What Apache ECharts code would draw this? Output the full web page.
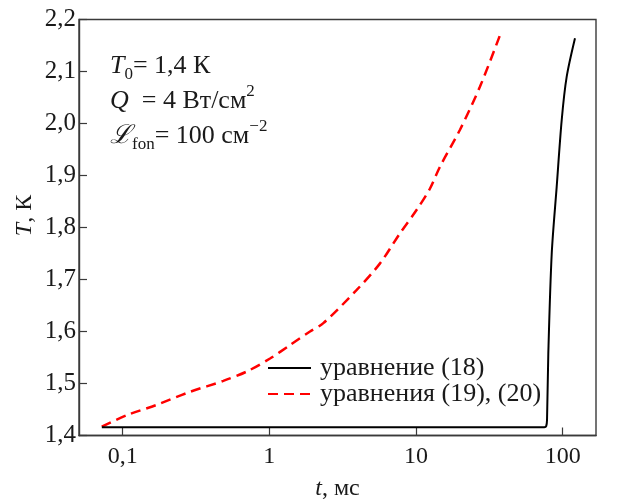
<!DOCTYPE html>
<html>
<head>
<meta charset="utf-8">
<script src="https://cdn.jsdelivr.net/npm/echarts@6/dist/echarts.min.js"></script>
<style>html,body{margin:0;padding:0;background:#fff}#c{width:635px;height:504px}</style>
</head>
<body>
<div id="c"></div>
<script>
// ---- data ----
var seriesNames = ['уравнение (18)', 'уравнения (19), (20)'];
// equation (18): time, ms
var eq18Time = [0.0721, 1, 10, 60, 75, 77.2, 78.2, 79.8, 84.2, 91.0, 98.5, 106.5, 121.3];
var eq18Temp = [1.416, 1.416, 1.416, 1.416, 1.416, 1.418, 1.43, 1.558, 1.750, 1.878, 2.007, 2.090, 2.164];
// equations (19), (20)
var eq1920Time = [0.0721, 0.1067, 0.1708, 0.288, 0.4857, 0.7015, 1.011, 1.384, 1.894, 2.334, 3.943, 5.684, 7.78, 10.11, 12.46, 14.57, 19.95, 27.31, 37.4];
var eq1920Temp = [1.417, 1.439, 1.459, 1.484, 1.505, 1.523, 1.548, 1.574, 1.600, 1.616, 1.680, 1.731, 1.789, 1.834, 1.875, 1.917, 1.988, 2.071, 2.170];
var xTickLabels = {'-1': '0,1', '0': '1', '1': '10', '2': '100'};
var yTickLabels = ['1,4', '1,5', '1,6', '1,7', '1,8', '1,9', '2,0', '2,1', '2,2'];

function pairs(a, b) { return a.map(function (v, i) { return [v, b[i]]; }); }

var FONT = '"Liberation Serif", "Times New Roman", serif';
var TXT = '#1a1a1a';
var AX = '#3a3a3a';

var chart = echarts.init(document.getElementById('c'), null, {renderer: 'canvas'});
chart.setOption({
  backgroundColor: '#fff',
  animation: false,
  textStyle: {fontFamily: FONT},
  grid: {left: 79, right: 39, top: 19.5, bottom: 68.5, containLabel: false, outerBoundsMode: 'none',
         show: true, borderColor: AX, borderWidth: 1.4, backgroundColor: 'transparent'},
  xAxis: {
    type: 'log', logBase: 10, min: 0.0504, max: 168.7,
    axisLine: {show: true, lineStyle: {color: AX, width: 1.4}},
    axisTick: {show: true, inside: true, length: 8, lineStyle: {color: AX, width: 1.2}},
    minorTick: {show: false},
    splitLine: {show: false},
    axisLabel: {
      showMinLabel: false, showMaxLabel: false, margin: 9,
      color: TXT, fontFamily: FONT, fontSize: 24,
      formatter: function (v) {
        var k = String(Math.round(Math.log(v) / Math.LN10));
        return xTickLabels[k] !== undefined ? xTickLabels[k] : '';
      }
    },
    name: '{i|t}, мс', nameLocation: 'middle', nameGap: 41, nameMoveOverlap: false,
    nameTextStyle: {color: TXT, fontFamily: FONT, fontSize: 24,
      rich: {i: {fontStyle: 'italic', fontFamily: FONT, fontSize: 24, color: TXT}}}
  },
  yAxis: {
    type: 'value', min: 1.4, max: 2.2, interval: 0.1,
    axisLine: {show: true, lineStyle: {color: AX, width: 1.4}},
    axisTick: {show: true, inside: true, length: 8, lineStyle: {color: AX, width: 1.2}},
    splitLine: {show: false},
    axisLabel: {
      margin: 3, color: TXT, fontFamily: FONT, fontSize: 25,
      formatter: function (v) {
        var i = Math.round((v - 1.4) * 10);
        return yTickLabels[i] !== undefined ? yTickLabels[i] : '';
      }
    },
    name: '{i|T}, К', nameLocation: 'middle', nameGap: 42, nameMoveOverlap: false,
    nameTextStyle: {color: TXT, fontFamily: FONT, fontSize: 24, padding: [0, 0, 0, 24],
      rich: {i: {fontStyle: 'italic', fontFamily: FONT, fontSize: 24, color: TXT}}}
  },
  legend: {
    orient: 'vertical', left: 262, top: 350, itemWidth: 43, itemHeight: 14, itemGap: 0,
    itemStyle: {opacity: 0},
    textStyle: {color: TXT, fontFamily: FONT, fontSize: 26, lineHeight: 25.6, padding: [0, 0, 0, 4]},
    data: seriesNames
  },
  graphic: [{
    type: 'text', left: 110, top: 53, silent: true,
    style: {
      text: '{i|T}{sub|0}{n|= 1,4 К}\n{i|Q}{n|  = 4 Вт/см}{sup|2}\n{i|ℒ}{sub|fon}{n|= 100 см}{sup|−2}',
      font: '26px ' + FONT, fill: TXT,
      rich: {
        i: {fontStyle: 'italic', fontSize: 26, fontFamily: FONT, lineHeight: 35, fill: TXT},
        n: {fontSize: 26, fontFamily: FONT, lineHeight: 35, fill: TXT},
        sub: {fontSize: 17, fontFamily: FONT, lineHeight: 17, verticalAlign: 'bottom', fill: TXT},
        sup: {fontSize: 17, fontFamily: FONT, lineHeight: 20, verticalAlign: 'top', fill: TXT}
      }
    }
  }],
  series: [{
    name: seriesNames[0], type: 'line', showSymbol: false, symbol: 'none',
    data: pairs(eq18Time, eq18Temp), smooth: 0.3,
    lineStyle: {color: '#000', width: 2}, itemStyle: {color: '#000'}, z: 3
  }, {
    name: seriesNames[1], type: 'line', showSymbol: false, symbol: 'none',
    data: pairs(eq1920Time, eq1920Temp), smooth: 0.3,
    lineStyle: {color: '#ff0000', width: 2.5, type: [10, 6]}, itemStyle: {color: '#ff0000'}, z: 2
  }]
});
</script>
</body>
</html>
